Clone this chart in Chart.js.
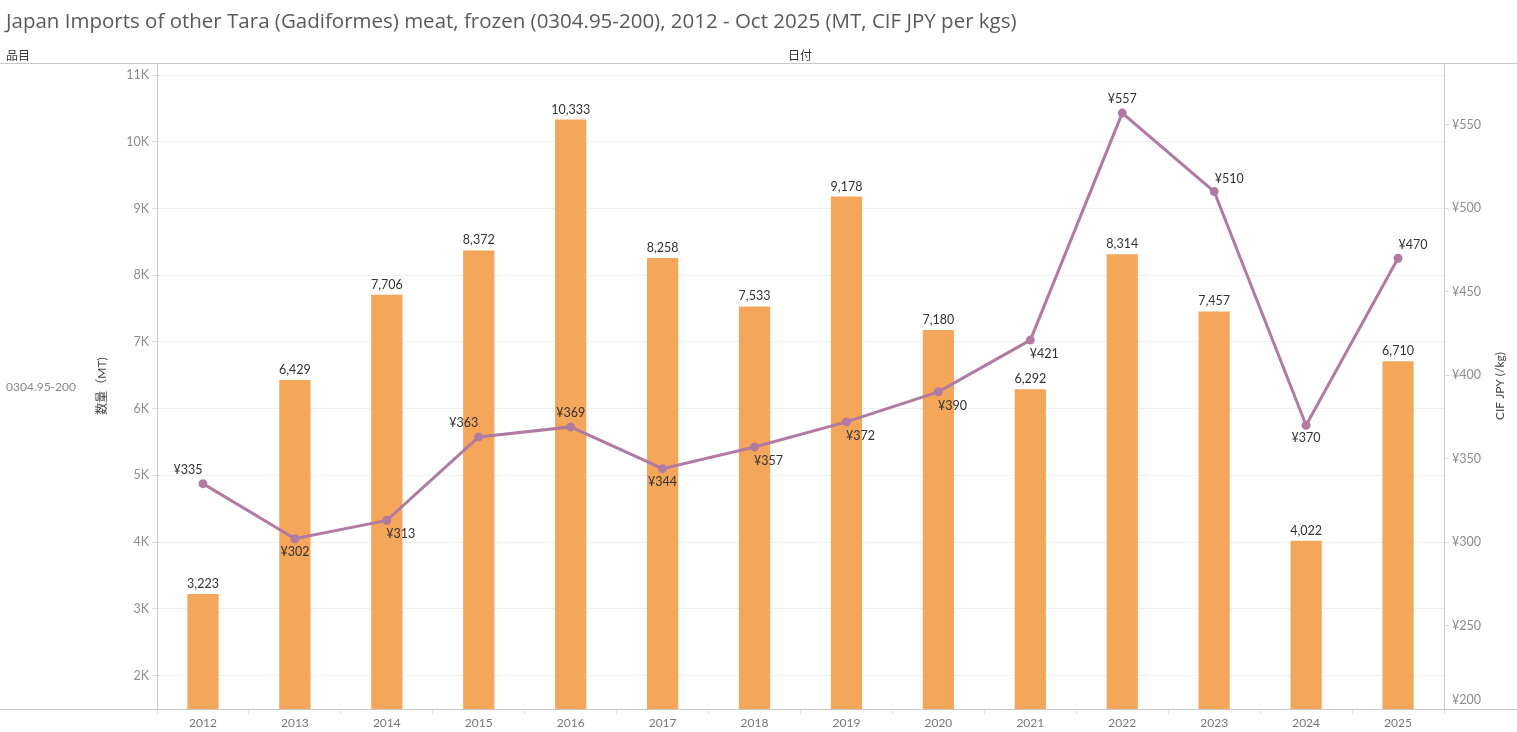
<!DOCTYPE html>
<html>
<head>
<meta charset="utf-8">
<script src="https://cdn.jsdelivr.net/npm/chart.js@4"></script>
<style>
  html, body { margin: 0; padding: 0; background: #fff; }
  #wrap { position: relative; width: 1517px; height: 732px; overflow: hidden; }
  #title { position: absolute; left: 6px; top: 6px; font: 20.5px 'Open Sans', 'Noto Sans CJK JP', sans-serif; color: #5a5a5a; white-space: nowrap; }
  .hdr { position: absolute; top: 46px; font: 12px Lato, 'Noto Sans CJK JP', sans-serif; color: #333; white-space: nowrap; }
  #rowlab { position: absolute; left: 6px; top: 379px; font: 12px Lato, 'Noto Sans CJK JP', sans-serif; color: #888; white-space: nowrap; }
  #cv { position: absolute; left: 0; top: 0; }
</style>
</head>
<body>
<div id="wrap">
  <canvas id="cv" width="1517" height="732"></canvas>
  <div id="title">Japan Imports of other Tara (Gadiformes) meat, frozen (0304.95-200), 2012 - Oct 2025 (MT, CIF JPY per kgs)</div>
  <div class="hdr" style="left:6px">品目</div>
  <div class="hdr" style="left:788px">日付</div>
  <div id="rowlab">0304.95-200</div>
</div>
<script>
const years = ['2012','2013','2014','2015','2016','2017','2018','2019','2020','2021','2022','2023','2024','2025'];
const volumeMT = [3223, 6429, 7706, 8372, 10333, 8258, 7533, 9178, 7180, 6292, 8314, 7457, 4022, 6710];
const cifJPY = [335, 302, 313, 363, 369, 344, 357, 372, 390, 421, 557, 510, 370, 470];
const leftTicks = [2000, 3000, 4000, 5000, 6000, 7000, 8000, 9000, 10000, 11000];
const rightTicks = [200, 250, 300, 350, 400, 450, 500, 550];
const leftTickUnit = 'K';
const rightTickPrefix = '¥';
const leftAxisTitle = '数量（MT)';
const rightAxisTitle = 'CIF JPY (/kg)';

// label placement style for the line labels (al=above-left, a=above, ar=above-right, b=below, br=below-right)
const linePlacement = ['al','b','br','al','a','b','br','br','br','br','a','ar','b','ar'];
const placeOffsets = { al:[-15,-14], a:[0,-14], ar:[15,-13], b:[0,13], br:[14,14] };

const FONT = "Lato, 'Noto Sans CJK JP', sans-serif";
const BAR_COLOR = '#F4A65A';
const LINE_COLOR = '#B07AA1';

const decoPlugin = {
  id: 'deco',
  afterDatasetsDraw(chart) {
    const ctx = chart.ctx;
    ctx.save();
    ctx.font = '12.5px ' + FONT;
    ctx.fillStyle = '#333';
    ctx.textAlign = 'center';
    ctx.textBaseline = 'middle';
    const barMeta = chart.getDatasetMeta(0);
    barMeta.data.forEach((el, i) => {
      ctx.fillText(volumeMT[i].toLocaleString('en-US'), el.x, el.y - 10);
    });
    const lineMeta = chart.getDatasetMeta(1);
    lineMeta.data.forEach((el, i) => {
      const off = placeOffsets[linePlacement[i]];
      ctx.fillText(rightTickPrefix + cifJPY[i], el.x + off[0], el.y + off[1]);
    });
    ctx.restore();
  },
  afterDraw(chart) {
    const ctx = chart.ctx;
    const a = chart.chartArea;
    ctx.save();
    ctx.strokeStyle = '#c8c8c8';
    ctx.lineWidth = 1;
    ctx.beginPath();
    ctx.moveTo(0, a.top + 0.5); ctx.lineTo(chart.width, a.top + 0.5);
    ctx.moveTo(0, a.bottom + 0.5); ctx.lineTo(chart.width, a.bottom + 0.5);
    ctx.stroke();
    // bottom right tick label, nudged up inside the pane
    const y1 = chart.scales.y1;
    ctx.fillStyle = '#8c8c8c';
    ctx.font = '12.5px ' + FONT;
    ctx.textAlign = 'left';
    ctx.textBaseline = 'middle';
    ctx.fillText(rightTickPrefix + rightTicks[0], a.right + 8, y1.getPixelForValue(rightTicks[0]) - 9);
    // axis titles
    ctx.fillStyle = '#444';
    ctx.font = '12px ' + FONT;
    ctx.textAlign = 'center';
    const cy = (a.top + a.bottom) / 2;
    ctx.translate(102, cy);
    ctx.rotate(-Math.PI / 2);
    ctx.fillText(leftAxisTitle, 0, 0);
    ctx.setTransform(1,0,0,1,0,0);
    ctx.translate(1500, cy);
    ctx.rotate(-Math.PI / 2);
    ctx.fillText(rightAxisTitle, 0, 0);
    ctx.restore();
  }
};

new Chart(document.getElementById('cv'), {
  data: {
    labels: years,
    datasets: [
      {
        type: 'bar',
        label: '数量（MT)',
        data: volumeMT,
        backgroundColor: BAR_COLOR,
        yAxisID: 'y',
        barPercentage: 0.34,
        categoryPercentage: 1.0,
        order: 2
      },
      {
        type: 'line',
        label: 'CIF JPY (/kg)',
        data: cifJPY,
        borderColor: LINE_COLOR,
        backgroundColor: LINE_COLOR,
        borderWidth: 3,
        pointRadius: 3,
        pointHoverRadius: 3,
        tension: 0,
        yAxisID: 'y1',
        order: 1
      }
    ]
  },
  options: {
    responsive: false,
    animation: false,
    devicePixelRatio: 1,
    layout: { padding: { top: 63, left: 0, right: 0, bottom: 0 } },
    plugins: { legend: { display: false }, tooltip: { enabled: false }, title: { display: false } },
    scales: {
      x: {
        grid: { display: true, drawOnChartArea: false, tickLength: 5, color: '#ddd' },
        border: { display: false },
        ticks: { color: '#777', font: { size: 12, family: FONT }, padding: 2, maxRotation: 0 },
        afterFit(s) { s.height = 23; }
      },
      y: {
        position: 'left',
        min: 1500,
        max: 11180,
        grid: { color: '#efefef', tickLength: 5, tickColor: '#ddd' },
        border: { color: '#c8c8c8' },
        ticks: {
          color: '#8c8c8c',
          padding: 3,
          font: { size: 12.5, family: FONT },
          callback: v => (v / 1000) + leftTickUnit
        },
        afterBuildTicks(s) { s.ticks = leftTicks.map(v => ({ value: v })); },
        afterFit(s) { s.width = 157; }
      },
      y1: {
        position: 'right',
        min: 200,
        max: 587,
        grid: { drawOnChartArea: false, tickLength: 5, color: '#ddd' },
        border: { color: '#c8c8c8' },
        ticks: {
          color: '#8c8c8c',
          padding: 3,
          font: { size: 12.5, family: FONT },
          callback: v => (v === rightTicks[0] ? '' : rightTickPrefix + v)
        },
        afterBuildTicks(s) { s.ticks = rightTicks.map(v => ({ value: v })); },
        afterFit(s) { s.width = 73; }
      }
    }
  },
  plugins: [decoPlugin]
});
</script>
</body>
</html>
